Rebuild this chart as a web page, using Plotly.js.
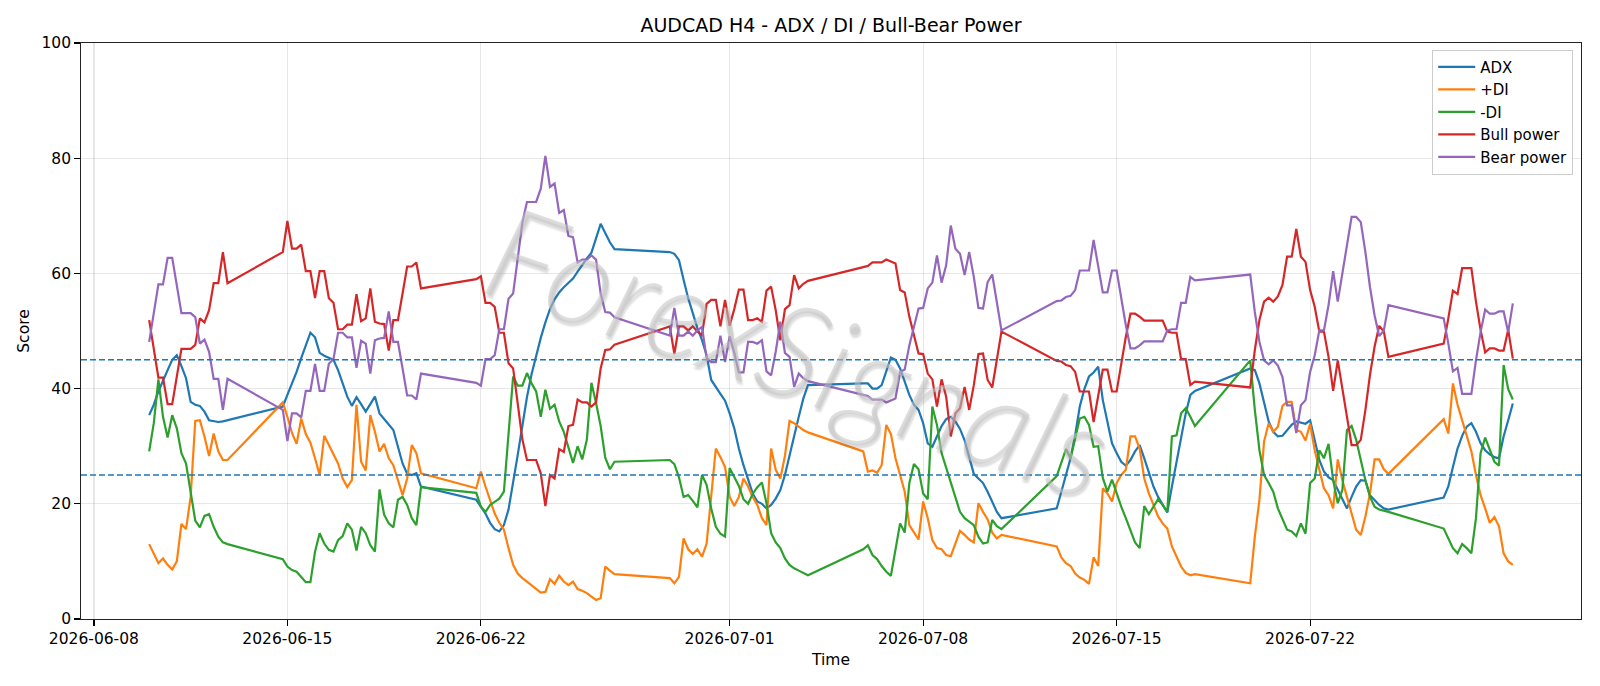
<!DOCTYPE html>
<html>
<head>
<meta charset="utf-8">
<script src="https://cdn.plot.ly/plotly-3.0.1.min.js"></script>
<style>
  html, body { margin: 0; padding: 0; background: #ffffff; }
  #chart { width: 1600px; height: 686px; }
</style>
</head>
<body>
<div id="chart"></div>
<script>
// AUDCAD H4 indicator panel: ADX, +DI, -DI and Bull/Bear power scores.

// Trading sessions: first H4 bar of each session and the number of bars in it.
const sessionStarts = ['2026-06-10T00:00Z', '2026-06-14T20:00Z', '2026-06-21T20:00Z', '2026-06-28T20:00Z',
                       '2026-07-05T20:00Z', '2026-07-12T20:00Z', '2026-07-19T20:00Z', '2026-07-26T20:00Z'];
const sessionBars = [18, 31, 31, 31, 31, 31, 31, 16];

const adx = [
  35.4, 37.2, 39.5, 41.5, 43.2, 45.0, 45.8, 43.9, 41.8, 37.7, 37.2, 37.0, 36.0, 34.5, 34.3, 34.2, 34.3, 34.5,
  36.9, 38.9, 40.9, 42.9, 45.3, 47.6, 49.7, 48.9, 46.2, 45.7, 45.3, 45.0, 43.2, 40.9, 38.6, 37.0, 38.5, 37.3, 36.0, 37.3, 38.6, 35.7, 34.7, 33.7, 32.8, 29.9, 27.0, 25.2, 25.0, 25.3, 23.0,
  20.7, 19.6, 18.3, 16.7, 15.6, 15.2, 16.3, 19.0, 23.5, 28.5, 33.5, 38.5, 42.5, 45.8, 48.8, 51.5, 53.8, 55.5, 56.7, 57.6, 58.3, 59.1, 60.3, 61.5, 62.6, 63.6, 66.0, 68.6, 67.0, 65.4, 64.2,
  63.7, 63.4, 62.3, 58.9, 55.7, 53.1, 50.5, 48.4, 45.8, 41.5, 40.2, 39.1, 37.9, 35.7, 33.1, 29.6, 26.7, 24.1, 21.8, 20.4, 20.0, 19.2, 19.8, 20.9, 22.4, 25.0, 28.5, 31.9, 35.1, 38.3, 40.6,
  40.9, 40.9, 40.0, 40.0, 40.6, 42.9, 45.4, 45.0, 43.5, 41.2, 38.9, 37.2, 36.3, 34.0, 30.5, 29.9, 31.8, 33.5, 34.7, 35.1, 34.3, 33.0, 31.0, 28.0, 25.2, 24.4, 23.6, 22.1, 20.4, 18.6, 17.5,
  19.2, 22.1, 25.0, 27.9, 31.9, 36.9, 39.9, 42.1, 42.8, 43.8, 38.0, 34.5, 30.5, 28.8, 27.3, 26.6, 27.6, 29.1, 30.2, 27.9, 25.6, 23.0, 21.2, 19.8, 18.5, 23.0, 27.3, 31.9, 35.7, 38.9, 39.6,
  43.5, 43.2, 40.9, 37.4, 34.3, 32.5, 31.7, 31.8, 32.8, 33.7, 34.3, 34.1, 33.9, 34.5, 31.1, 27.6, 25.6, 24.6, 24.1, 22.4, 20.9, 19.2, 21.2, 23.0, 24.1, 24.0, 21.5, 20.7, 19.8, 19.2, 19.0,
  21.1, 23.0, 26.4, 29.6, 31.8, 33.4, 34.0, 32.5, 30.5, 29.3, 28.6, 28.1, 27.9, 31.7, 34.5, 37.4
];

const plusDI = [
  13.0, 11.4, 9.7, 10.5, 9.4, 8.6, 10.0, 16.5, 15.6, 21.2, 34.4, 34.5, 31.7, 28.3, 32.2, 29.1, 27.6, 27.6,
  37.6, 35.1, 32.3, 30.4, 34.8, 32.1, 30.6, 27.9, 25.0, 31.8, 30.2, 28.6, 27.0, 24.4, 22.9, 24.1, 37.2, 27.3, 25.8, 35.4, 32.5, 29.1, 30.4, 27.9, 26.7, 24.1, 21.5, 24.4, 30.2, 28.8, 25.3,
  22.7, 25.6, 23.0, 20.7, 18.3, 16.7, 15.5, 12.3, 9.4, 7.9, 7.1, 6.5, 5.9, 5.2, 4.6, 4.7, 6.9, 6.1, 7.5, 6.5, 5.9, 6.5, 5.2, 4.9, 4.5, 3.9, 3.3, 3.6, 9.1, 8.4, 7.8,
  7.1, 6.2, 7.3, 14.0, 12.1, 11.3, 12.1, 10.8, 13.1, 21.8, 29.6, 28.1, 26.4, 21.2, 19.6, 21.2, 24.4, 23.0, 21.2, 19.8, 17.5, 16.3, 29.6, 25.9, 24.4, 28.3, 34.4, 34.0, 33.4, 32.8, 32.4,
  29.1, 25.6, 25.8, 25.4, 26.7, 33.7, 32.1, 27.9, 25.2, 22.1, 16.3, 15.0, 13.8, 20.4, 17.5, 13.7, 12.3, 12.1, 11.1, 10.9, 13.3, 15.3, 14.6, 13.8, 13.3, 20.1, 18.6, 17.3, 15.0, 14.0, 14.6,
  12.6, 10.7, 9.7, 9.2, 7.9, 7.2, 6.8, 6.1, 10.7, 9.2, 22.7, 21.8, 20.4, 23.6, 25.0, 25.9, 31.7, 31.7, 29.6, 24.4, 21.8, 19.8, 17.8, 16.6, 15.7, 12.6, 10.9, 9.1, 8.0, 7.6, 7.8,
  6.2, 14.3, 20.7, 30.8, 34.0, 32.5, 33.4, 37.0, 37.7, 37.7, 32.8, 32.5, 31.0, 33.9, 29.3, 25.9, 22.7, 21.5, 19.2, 27.7, 24.1, 21.2, 18.3, 15.5, 14.6, 17.8, 21.8, 27.7, 27.7, 26.0, 25.2,
  34.7, 32.2, 40.9, 37.2, 34.5, 31.4, 29.1, 25.0, 21.5, 19.2, 16.7, 17.7, 16.1, 11.4, 10.0, 9.4
];

const minusDI = [
  29.1, 34.0, 41.6, 35.1, 31.5, 35.4, 33.1, 28.8, 27.0, 22.0, 17.1, 15.9, 17.9, 18.2, 16.0, 14.3, 13.3, 13.0,
  10.4, 9.1, 8.5, 8.2, 7.2, 6.4, 6.4, 11.7, 14.9, 13.1, 12.0, 11.7, 13.7, 14.4, 16.6, 15.5, 11.9, 16.0, 14.9, 12.8, 11.7, 22.5, 18.1, 16.6, 15.9, 20.7, 21.2, 19.8, 17.5, 16.3, 22.9,
  21.9, 19.5, 18.6, 19.8, 20.4, 20.9, 22.1, 31.7, 42.1, 40.5, 40.5, 42.7, 40.9, 39.5, 35.1, 39.8, 36.5, 37.2, 34.3, 32.5, 29.6, 27.1, 30.0, 27.7, 31.1, 41.0, 37.5, 33.5, 28.0, 26.0, 27.3,
  27.6, 26.9, 24.6, 21.2, 21.5, 20.5, 19.4, 25.0, 23.3, 19.2, 16.0, 14.8, 14.3, 26.2, 24.6, 23.1, 20.8, 20.0, 21.7, 22.9, 23.7, 20.1, 14.9, 13.3, 12.3, 10.5, 9.4, 8.8, 8.4, 8.0, 7.6,
  12.1, 12.8, 11.1, 10.4, 9.2, 8.2, 7.5, 12.0, 16.6, 15.0, 23.6, 26.9, 26.0, 21.8, 20.8, 36.9, 33.7, 28.8, 26.2, 23.8, 21.2, 18.6, 17.5, 16.9, 16.3, 14.3, 13.1, 13.3, 17.2, 16.1, 15.6,
  24.8, 27.3, 29.5, 27.9, 31.4, 34.8, 35.1, 33.7, 29.9, 30.0, 24.5, 22.1, 24.2, 21.8, 19.5, 17.5, 15.5, 13.3, 12.3, 19.6, 18.2, 19.6, 20.8, 19.8, 18.6, 31.7, 31.9, 35.7, 36.6, 35.1, 33.5,
  44.9, 36.3, 29.3, 25.0, 23.6, 22.1, 19.2, 17.2, 15.5, 15.2, 14.4, 16.6, 14.8, 23.6, 24.4, 29.3, 27.9, 30.4, 24.1, 20.1, 22.4, 32.8, 33.5, 31.1, 27.3, 24.1, 21.2, 19.5, 19.0, 18.8, 18.6,
  15.7, 14.0, 12.3, 11.4, 13.0, 12.3, 11.4, 17.5, 28.8, 31.5, 29.3, 27.3, 26.6, 44.1, 39.9, 38.1
];

const bullPower = [
  51.9, 46.5, 41.9, 41.9, 37.3, 37.3, 42.5, 46.9, 46.9, 46.9, 47.6, 52.2, 51.5, 53.6, 58.3, 58.3, 63.7, 58.3,
  63.7, 69.1, 64.3, 64.3, 65.0, 60.4, 60.4, 55.7, 60.4, 60.4, 55.7, 54.9, 50.3, 50.3, 51.1, 51.1, 56.4, 51.7, 52.2, 57.4, 51.6, 51.3, 51.2, 46.6, 51.9, 51.9, 56.5, 61.2, 61.2, 61.9, 57.4,
  59.0, 59.5, 54.9, 54.9, 54.2, 49.7, 49.7, 44.4, 43.5, 37.4, 31.2, 27.6, 27.6, 27.6, 25.3, 19.6, 25.0, 24.4, 29.5, 29.0, 33.5, 33.7, 38.1, 37.6, 37.6, 36.9, 37.6, 43.5, 46.7, 46.8, 47.6,
  50.8, 46.0, 50.8, 50.8, 50.1, 50.8, 49.9, 49.3, 54.7, 55.4, 55.4, 50.8, 55.4, 50.9, 53.8, 57.2, 57.2, 51.9, 51.9, 52.2, 51.6, 57.0, 57.7, 53.6, 48.4, 53.8, 54.5, 59.7, 57.4, 58.2, 58.7,
  61.1, 61.3, 61.9, 61.9, 61.9, 62.4, 62.0, 61.7, 57.1, 56.7, 52.5, 49.3, 46.1, 46.0, 42.6, 41.6, 36.9, 41.6, 38.6, 31.7, 35.7, 36.6, 40.3, 36.3, 40.6, 46.0, 46.1, 41.5, 40.2, 45.0, 49.9,
  44.8, 44.7, 44.1, 43.9, 42.9, 39.5, 39.5, 39.5, 34.2, 39.0, 43.3, 43.3, 39.5, 39.5, 44.4, 49.0, 53.0, 53.0, 52.5, 51.8, 51.8, 51.8, 51.8, 51.8, 49.9, 49.7, 49.7, 45.1, 45.1, 40.6, 41.2,
  40.2, 46.7, 51.9, 55.1, 55.8, 55.1, 56.0, 58.0, 62.9, 62.9, 67.7, 62.9, 62.0, 57.1, 54.2, 49.9, 49.9, 45.5, 39.6, 44.9, 40.3, 35.1, 30.2, 30.2, 31.1, 36.3, 42.4, 47.3, 50.9, 49.9, 45.5,
  47.8, 52.2, 57.0, 56.4, 60.9, 60.9, 60.9, 55.1, 50.2, 46.3, 47.0, 47.0, 46.6, 46.6, 50.2, 45.2
];

const bearPower = [
  48.1, 53.5, 58.1, 58.1, 62.7, 62.7, 57.5, 53.1, 53.1, 53.1, 52.4, 47.8, 48.5, 46.4, 41.7, 41.7, 36.3, 41.7,
  36.3, 30.9, 35.7, 35.7, 35.0, 39.6, 39.6, 44.3, 39.6, 39.6, 44.3, 45.1, 49.7, 49.7, 48.9, 48.9, 43.6, 48.3, 47.8, 42.6, 48.4, 48.7, 48.8, 53.4, 48.1, 48.1, 43.5, 38.8, 38.8, 38.1, 42.6,
  41.0, 40.5, 45.1, 45.1, 45.8, 50.3, 50.3, 55.6, 56.5, 62.6, 68.8, 72.4, 72.4, 72.4, 74.7, 80.4, 75.0, 75.6, 70.5, 71.0, 66.5, 66.3, 61.9, 62.4, 62.4, 63.1, 62.4, 56.5, 53.3, 53.2, 52.4,
  49.2, 54.0, 49.2, 49.2, 49.9, 49.2, 50.1, 50.7, 45.3, 44.6, 44.6, 49.2, 44.6, 49.1, 46.2, 42.8, 42.8, 48.1, 48.1, 47.8, 48.4, 43.0, 42.3, 46.4, 51.6, 46.2, 45.5, 40.3, 42.6, 41.8, 41.3,
  38.9, 38.7, 38.1, 38.1, 38.1, 37.6, 38.0, 38.3, 42.9, 43.3, 47.5, 50.7, 53.9, 54.0, 57.4, 58.4, 63.1, 58.4, 61.4, 68.3, 64.3, 63.4, 59.7, 63.7, 59.4, 54.0, 53.9, 58.5, 59.8, 55.0, 50.1,
  55.2, 55.3, 55.9, 56.1, 57.1, 60.5, 60.5, 60.5, 65.8, 61.0, 56.7, 56.7, 60.5, 60.5, 55.6, 51.0, 47.0, 47.0, 47.5, 48.2, 48.2, 48.2, 48.2, 48.2, 50.1, 50.3, 50.3, 54.9, 54.9, 59.4, 58.8,
  59.8, 53.3, 48.1, 44.9, 44.2, 44.9, 44.0, 42.0, 37.1, 37.1, 32.3, 37.1, 38.0, 42.9, 45.8, 50.1, 50.1, 54.5, 60.4, 55.1, 59.7, 64.9, 69.8, 69.8, 68.9, 63.7, 57.6, 52.7, 49.1, 50.1, 54.5,
  52.2, 47.8, 43.0, 43.6, 39.1, 39.1, 39.1, 44.9, 49.8, 53.7, 53.0, 53.0, 53.4, 53.4, 49.8, 54.8
];

// Reference levels drawn as dashed lines.
const thresholdLevels = [25, 45];

// Date ticks shown on the time axis.
const timeTicks = ['2026-06-08', '2026-06-15', '2026-06-22', '2026-07-01', '2026-07-08', '2026-07-15', '2026-07-22'];

// Expand the sessions into the H4 bar timestamps.
const H4 = 4 * 3600 * 1000;
function pad(n) { return String(n).padStart(2, '0'); }
function fmt(ms) {
  const d = new Date(ms);
  return d.getUTCFullYear() + '-' + pad(d.getUTCMonth() + 1) + '-' + pad(d.getUTCDate()) +
         ' ' + pad(d.getUTCHours()) + ':' + pad(d.getUTCMinutes());
}
const barTimes = [];
sessionStarts.forEach((s, i) => {
  const t0 = Date.parse(s);
  for (let k = 0; k < sessionBars[i]; k++) barTimes.push(fmt(t0 + k * H4));
});

// Time axis padded by 5% of the data span on both sides.
const tFirst = Date.parse(barTimes[0].replace(' ', 'T') + 'Z');
const tLast = Date.parse(barTimes[barTimes.length - 1].replace(' ', 'T') + 'Z');
const tPad = 0.05 * (tLast - tFirst);
const timeRange = [fmt(tFirst - tPad), fmt(tLast + tPad)];

const FONT = 'DejaVu Sans, Verdana, sans-serif';
const seriesDefs = [
  { name: 'ADX',        values: adx,       color: '#1f77b4' },
  { name: '+DI',        values: plusDI,    color: '#ff7f0e' },
  { name: '-DI',        values: minusDI,   color: '#2ca02c' },
  { name: 'Bull power', values: bullPower, color: '#d62728' },
  { name: 'Bear power', values: bearPower, color: '#9467bd' }
];

const traces = seriesDefs.map(s => ({
  type: 'scatter',
  mode: 'lines',
  name: s.name,
  x: barTimes,
  y: s.values,
  line: { color: s.color, width: 2.2 },
  hoverinfo: 'x+y+name'
}));

const shapes = thresholdLevels.map(v => ({
  type: 'line', xref: 'paper', x0: 0, x1: 1, yref: 'y', y0: v, y1: v,
  line: { color: '#1f77b4', width: 1.5, dash: '6px,3px' },
  layer: 'above'
}));

const layout = {
  width: 1600,
  height: 686,
  margin: { l: 81, r: 19, t: 43, b: 67 },
  paper_bgcolor: '#ffffff',
  plot_bgcolor: '#ffffff',
  font: { family: FONT, size: 15.5, color: '#000000' },
  title: {
    text: 'AUDCAD H4 - ADX / DI / Bull-Bear Power',
    font: { family: FONT, size: 19, color: '#000000' },
    x: 0.5, xref: 'paper', xanchor: 'center',
    y: 1 - 25.5 / 686, yref: 'container', yanchor: 'middle'
  },
  xaxis: {
    type: 'date',
    range: timeRange,
    tickmode: 'array',
    tickvals: timeTicks,
    ticktext: timeTicks,
    ticks: 'outside', ticklen: 5.5, tickwidth: 1.2, tickcolor: '#000000',
    showline: true, linecolor: '#222222', linewidth: 1.3, mirror: true,
    showgrid: true, gridcolor: 'rgba(176,176,176,0.3)', gridwidth: 1.2,
    zeroline: false,
    tickfont: { family: FONT, size: 15.5, color: '#000000' },
    title: { text: 'Time', font: { family: FONT, size: 15.5, color: '#000000' }, standoff: 6 },
    automargin: false
  },
  yaxis: {
    range: [0, 100],
    tickmode: 'array',
    tickvals: [0, 20, 40, 60, 80, 100],
    ticks: 'outside', ticklen: 5.5, tickwidth: 1.2, tickcolor: '#000000',
    showline: true, linecolor: '#222222', linewidth: 1.3, mirror: true,
    showgrid: true, gridcolor: 'rgba(176,176,176,0.3)', gridwidth: 1.2,
    zeroline: false,
    tickfont: { family: FONT, size: 15.5, color: '#000000' },
    title: { text: 'Score', font: { family: FONT, size: 15.5, color: '#000000' }, standoff: 8 },
    automargin: false
  },
  legend: {
    x: 0.9948, xanchor: 'right', xref: 'paper',
    y: 0.9885, yanchor: 'top', yref: 'paper',
    bgcolor: 'rgba(255,255,255,0.8)',
    bordercolor: '#cccccc', borderwidth: 1,
    font: { family: FONT, size: 15, color: '#000000' },
    itemwidth: 37,
    tracegroupgap: 0
  },
  showlegend: true,
  shapes: shapes,
  annotations: [{
    text: 'ForexSignals',
    xref: 'paper', yref: 'paper', x: 0.479, y: 0.468,
    xanchor: 'center', yanchor: 'middle',
    textangle: 19,
    showarrow: false,
    font: { family: 'Lato, DejaVu Sans, sans-serif', size: 130, style: 'italic', weight: 300,
            color: 'rgba(195,195,195,0.55)', shadow: '2px 3px 2px rgba(100,100,100,0.4)' }
  }]
};

Plotly.newPlot('chart', traces, layout, { displayModeBar: false, responsive: false, staticPlot: true });
</script>
</body>
</html>
